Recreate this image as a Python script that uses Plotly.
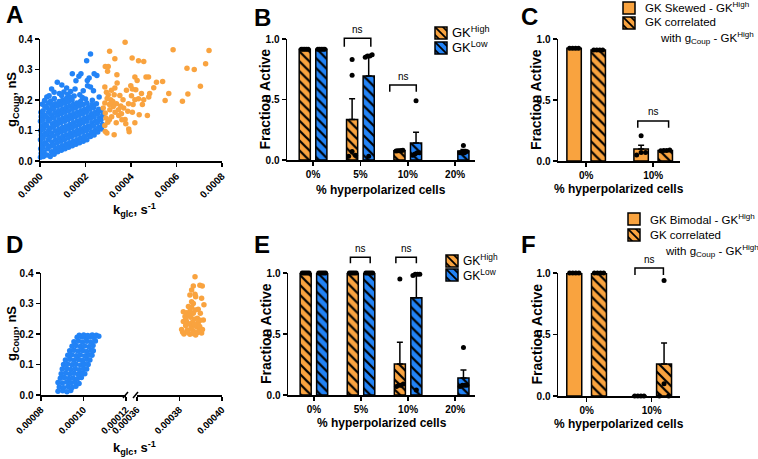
import plotly.graph_objects as go

W, H = 758, 459
ORANGE = "#F9A33F"
BLUE = "#2283F6"
FONT = "Liberation Sans, Arial, sans-serif"

# ---------------- data ----------------
# Panel A: (k_glc in 1e-4 s^-1, g_Coup in nS)
A_BLUE = [
    (2.22, 0.351), (2.05, 0.329), (1.42, 0.286), (1.80, 0.286), (2.38, 0.286), (1.71, 0.278),
    (2.16, 0.272), (0.76, 0.258), (0.96, 0.249), (2.08, 0.264), (1.58, 0.263), (2.50, 0.280),
    (1.17, 0.239), (1.54, 0.236), (2.09, 0.247), (0.51, 0.236), (1.35, 0.228), (1.75, 0.217),
    (2.22, 0.243), (0.62, 0.225), (0.30, 0.210), (1.05, 0.226), (2.35, 0.230), (2.60, 0.210),
    (1.90, 0.230), (0.20, 0.198), (0.40, 0.214), (0.85, 0.221), (1.22, 0.219), (1.50, 0.213),
    (1.86, 0.208), (2.00, 0.203), (2.30, 0.199), (2.48, 0.188), (0.10, 0.186),
    (0.02, 0.012), (0.05, 0.025), (0.03, 0.040), (0.08, 0.055), (0.02, 0.070), (0.06, 0.085),
    (0.03, 0.100), (0.07, 0.115), (0.02, 0.130), (0.05, 0.145), (0.04, 0.160),
    (0.15, 0.015), (0.18, 0.030), (0.12, 0.045), (0.20, 0.060), (0.14, 0.075), (0.22, 0.090),
    (0.15, 0.105), (0.20, 0.120), (0.13, 0.135), (0.18, 0.150), (0.14, 0.165), (0.20, 0.180),
    (0.30, 0.020), (0.34, 0.040), (0.28, 0.055), (0.36, 0.070), (0.30, 0.085), (0.38, 0.100),
    (0.30, 0.115), (0.35, 0.130), (0.28, 0.145), (0.37, 0.160), (0.30, 0.175), (0.36, 0.190),
    (0.45, 0.015), (0.50, 0.030), (0.46, 0.048), (0.52, 0.062), (0.44, 0.078), (0.50, 0.092),
    (0.46, 0.108), (0.54, 0.122), (0.45, 0.138), (0.50, 0.152), (0.46, 0.168), (0.52, 0.182),
    (0.47, 0.197),
    (0.62, 0.022), (0.66, 0.038), (0.60, 0.052), (0.68, 0.068), (0.62, 0.082), (0.67, 0.098),
    (0.60, 0.112), (0.68, 0.128), (0.62, 0.142), (0.66, 0.158), (0.60, 0.172), (0.67, 0.188),
    (0.63, 0.205),
    (0.78, 0.030), (0.82, 0.045), (0.76, 0.060), (0.84, 0.075), (0.78, 0.090), (0.83, 0.105),
    (0.76, 0.120), (0.84, 0.135), (0.78, 0.150), (0.82, 0.165), (0.77, 0.180), (0.84, 0.195),
    (0.94, 0.035), (0.98, 0.050), (0.92, 0.065), (1.00, 0.080), (0.94, 0.095), (0.99, 0.110),
    (0.92, 0.125), (1.00, 0.140), (0.94, 0.155), (0.98, 0.170), (0.93, 0.185), (1.00, 0.200),
    (0.95, 0.215),
    (1.10, 0.040), (1.14, 0.055), (1.08, 0.070), (1.16, 0.085), (1.10, 0.100), (1.15, 0.115),
    (1.08, 0.130), (1.16, 0.145), (1.10, 0.160), (1.14, 0.175), (1.09, 0.190), (1.16, 0.205),
    (1.26, 0.045), (1.30, 0.060), (1.24, 0.075), (1.32, 0.090), (1.26, 0.105), (1.31, 0.120),
    (1.24, 0.135), (1.32, 0.150), (1.26, 0.165), (1.30, 0.180), (1.25, 0.195), (1.32, 0.210),
    (1.42, 0.050), (1.46, 0.065), (1.40, 0.080), (1.48, 0.095), (1.42, 0.110), (1.47, 0.125),
    (1.40, 0.140), (1.48, 0.155), (1.42, 0.170), (1.46, 0.185), (1.41, 0.200),
    (1.58, 0.055), (1.62, 0.070), (1.56, 0.085), (1.64, 0.100), (1.58, 0.115), (1.63, 0.130),
    (1.56, 0.145), (1.64, 0.160), (1.58, 0.175), (1.62, 0.190),
    (1.74, 0.060), (1.78, 0.075), (1.72, 0.090), (1.80, 0.105), (1.74, 0.120), (1.79, 0.135),
    (1.72, 0.150), (1.80, 0.165), (1.74, 0.180), (1.78, 0.195),
    (1.90, 0.065), (1.94, 0.080), (1.88, 0.095), (1.96, 0.110), (1.90, 0.125), (1.95, 0.140),
    (1.88, 0.155), (1.96, 0.170), (1.90, 0.185),
    (2.06, 0.070), (2.10, 0.085), (2.04, 0.100), (2.12, 0.115), (2.06, 0.130), (2.11, 0.145),
    (2.04, 0.160), (2.12, 0.175), (2.06, 0.190),
    (2.22, 0.080), (2.26, 0.095), (2.20, 0.110), (2.28, 0.125), (2.22, 0.140), (2.27, 0.155),
    (2.20, 0.170), (2.28, 0.185),
    (2.38, 0.085), (2.42, 0.100), (2.36, 0.115), (2.44, 0.130), (2.38, 0.145), (2.43, 0.160),
    (2.36, 0.175),
    (2.54, 0.095), (2.58, 0.110), (2.52, 0.125), (2.60, 0.140), (2.54, 0.155), (2.58, 0.170),
    (2.70, 0.105), (2.74, 0.120), (2.68, 0.135), (2.76, 0.150), (2.70, 0.165),
]
A_ORANGE = [
    (3.74, 0.389), (3.06, 0.360), (5.85, 0.365), (7.43, 0.362), (3.29, 0.335), (4.05, 0.338),
    (4.33, 0.329), (4.56, 0.326), (2.87, 0.310), (3.00, 0.310), (2.97, 0.294), (7.28, 0.319),
    (6.46, 0.304), (6.78, 0.300), (3.38, 0.283), (4.17, 0.275), (4.66, 0.275), (4.77, 0.275),
    (4.27, 0.264), (5.12, 0.258), (5.39, 0.261), (2.85, 0.243), (3.99, 0.247), (4.06, 0.236),
    (5.00, 0.240), (7.05, 0.245), (3.39, 0.256), (3.29, 0.239), (3.14, 0.232), (3.80, 0.232),
    (4.21, 0.234), (6.50, 0.220), (5.66, 0.221), (3.26, 0.217), (3.00, 0.217), (3.51, 0.215),
    (4.02, 0.214), (4.46, 0.221), (4.82, 0.221), (4.78, 0.210), (3.11, 0.201), (3.65, 0.201),
    (4.17, 0.201), (4.33, 0.204), (4.56, 0.201), (5.50, 0.198), (6.26, 0.196), (2.85, 0.190),
    (3.36, 0.188), (3.89, 0.188), (4.09, 0.185), (4.50, 0.185), (3.22, 0.179), (3.68, 0.174),
    (2.78, 0.174), (3.07, 0.168), (3.45, 0.168), (3.86, 0.163), (4.06, 0.160), (4.72, 0.149),
    (3.46, 0.149), (2.87, 0.157), (2.90, 0.141), (3.74, 0.136), (3.58, 0.155), (4.36, 0.152),
    (2.98, 0.127), (3.77, 0.122), (2.85, 0.116), (4.17, 0.125), (3.90, 0.105), (2.87, 0.097),
    (3.26, 0.086), (3.92, 0.096), (2.94, 0.092), (3.05, 0.185), (3.20, 0.195), (2.95, 0.205),
    (3.15, 0.145), (3.30, 0.160), (3.05, 0.135), (3.35, 0.125), (3.55, 0.180), (3.60, 0.135),
    (2.92, 0.225),
]
# Panel D: (k_glc in 1e-5 s^-1, g_Coup in nS)
D_BLUE = [
    (8.80, 0.012), (9.02, 0.014), (9.22, 0.011), (9.40, 0.015),
    (8.86, 0.026), (9.06, 0.024), (9.27, 0.028), (9.46, 0.025), (9.64, 0.029),
    (8.80, 0.041), (9.01, 0.039), (9.21, 0.043), (9.41, 0.040), (9.60, 0.042), (9.79, 0.038),
    (8.91, 0.055), (9.10, 0.057), (9.31, 0.054), (9.50, 0.056), (9.71, 0.053), (9.90, 0.057),
    (8.95, 0.070), (9.16, 0.072), (9.35, 0.069), (9.56, 0.071), (9.75, 0.068), (9.94, 0.072), (10.06, 0.070),
    (9.00, 0.085), (9.21, 0.087), (9.40, 0.084), (9.61, 0.086), (9.80, 0.083), (10.01, 0.087), (10.15, 0.085),
    (9.06, 0.100), (9.25, 0.102), (9.46, 0.099), (9.65, 0.101), (9.86, 0.098), (10.05, 0.102), (10.22, 0.100),
    (9.15, 0.115), (9.36, 0.117), (9.55, 0.114), (9.76, 0.116), (9.95, 0.113), (10.16, 0.117), (10.30, 0.115),
    (9.26, 0.130), (9.45, 0.132), (9.66, 0.129), (9.85, 0.131), (10.06, 0.128), (10.25, 0.132), (10.40, 0.130),
    (9.35, 0.145), (9.56, 0.147), (9.75, 0.144), (9.96, 0.146), (10.15, 0.143), (10.36, 0.147), (10.46, 0.145),
    (9.46, 0.160), (9.65, 0.162), (9.86, 0.159), (10.05, 0.161), (10.26, 0.158), (10.45, 0.162),
    (9.55, 0.175), (9.76, 0.177), (9.95, 0.174), (10.16, 0.176), (10.35, 0.173), (10.56, 0.177),
    (9.70, 0.189), (9.91, 0.191), (10.10, 0.188), (10.31, 0.190), (10.50, 0.188), (10.72, 0.193),
    (9.80, 0.196), (10.01, 0.197), (10.20, 0.195), (10.41, 0.197), (10.60, 0.196),
]
D_ORANGE = [
    (38.73, 0.388), (38.65, 0.357), (38.96, 0.360), (39.07, 0.357), (38.57, 0.344), (38.73, 0.330),
    (38.49, 0.328), (38.76, 0.322), (39.04, 0.317), (38.57, 0.306), (38.65, 0.300), (38.42, 0.290),
    (38.57, 0.288), (38.88, 0.281), (39.15, 0.296), (38.18, 0.273), (38.34, 0.270), (38.65, 0.268),
    (38.98, 0.268), (38.26, 0.257), (38.53, 0.255), (38.84, 0.252), (39.12, 0.246), (38.18, 0.241),
    (38.34, 0.239), (38.60, 0.238), (38.88, 0.236), (38.29, 0.228), (38.57, 0.226), (38.80, 0.224),
    (38.10, 0.215), (38.37, 0.213), (38.65, 0.210), (38.92, 0.212), (38.21, 0.200), (38.49, 0.199),
    (38.76, 0.197), (39.04, 0.203), (38.45, 0.262), (38.70, 0.248), (38.95, 0.225), (38.40, 0.205),
    (38.85, 0.205), (38.55, 0.218), (38.30, 0.248), (38.75, 0.279), (38.50, 0.276), (38.98, 0.245),
    (38.62, 0.202), (38.15, 0.206), (39.08, 0.215), (38.70, 0.232), (38.45, 0.233),
]

PCT4 = ["0%", "5%", "10%", "20%"]
PCT2 = ["0%", "10%"]

# Panel B
B_HIGH_MEAN = [0.915, 0.334, 0.077, None]
B_HIGH_SEM = [0.003, 0.173, 0.002, None]
B_HIGH_PTS = [[0.915, 0.915, 0.915, 0.915, 0.915], [0.83, 0.70, 0.07, 0.04, 0.03],
              [0.080, 0.078, 0.077, 0.076, 0.075], []]
B_LOW_MEAN = [0.915, 0.694, 0.140, 0.074]
B_LOW_SEM = [0.003, 0.175, 0.090, 0.012]
B_LOW_PTS = [[0.915, 0.915, 0.915, 0.915, 0.915], [0.87, 0.86, 0.86, 0.85, 0.03],
             [0.49, 0.06, 0.05, 0.04, 0.06], [0.12, 0.07, 0.06, 0.06, 0.06]]
# Panel C
C_SKEW_MEAN = [0.924, 0.099]
C_SKEW_SEM = [0.003, 0.030]
C_SKEW_PTS = [[0.924, 0.924, 0.924, 0.924], [0.207, 0.07, 0.07, 0.05]]
C_CORR_MEAN = [0.910, 0.087]
C_CORR_SEM = [0.003, 0.002]
C_CORR_PTS = [[0.910, 0.910, 0.910, 0.910], [0.090, 0.087, 0.085, 0.086]]
# Panel E
E_HIGH_MEAN = [1.0, 1.0, 0.254, None]
E_HIGH_SEM = [0.0, 0.0, 0.178, None]
E_HIGH_PTS = [[1.0] * 5, [1.0] * 5, [0.95, 0.08, 0.08, 0.07, 0.09], []]
E_LOW_MEAN = [1.0, 1.0, 0.798, 0.140]
E_LOW_SEM = [0.0, 0.0, 0.190, 0.065]
E_LOW_PTS = [[1.0] * 5, [1.0] * 5, [0.99, 0.99, 0.99, 0.98, 0.04], [0.39, 0.08, 0.08, 0.08, 0.07]]
# Panel F
F_BIMODAL_MEAN = [1.0, 0.0]
F_BIMODAL_SEM = [0.0, 0.0]
F_BIMODAL_PTS = [[1.0] * 4, [0.0] * 4]
F_CORR_MEAN = [1.0, 0.26]
F_CORR_SEM = [0.0, 0.170]
F_CORR_PTS = [[1.0] * 4, [0.94, 0.10, 0.0, 0.0]]

# ---------------- helpers ----------------
def dom_x(a, b):
    return [a / W, b / W]


def dom_y(top, bot):
    return [1 - bot / H, 1 - top / H]


def px(x):
    return x / W


def py(y):
    return 1 - y / H


TICKFONT = dict(family=FONT, size=10, color="black", weight="bold")
AX = dict(showline=True, linecolor="black", linewidth=1.5, ticks="outside", ticklen=4,
          tickwidth=1.5, tickcolor="black", showgrid=False, zeroline=False, tickfont=TICKFONT,
          fixedrange=True, automargin=False)
DTICK = dict(TICKFONT, size=9.5)

fig = go.Figure()

# ---------------- scatter panels ----------------
def add_scatter(pts, scale, color, xa, ya):
    fig.add_trace(go.Scatter(
        x=[p[0] * scale for p in pts], y=[p[1] for p in pts], mode="markers",
        marker=dict(color=color, size=5.5, line=dict(width=0)),
        xaxis=xa, yaxis=ya, showlegend=False, cliponaxis=False, hoverinfo="skip"))


add_scatter(A_BLUE, 1e-4, BLUE, "x", "y")
add_scatter(A_ORANGE, 1e-4, ORANGE, "x", "y")
add_scatter(D_BLUE, 1e-5, BLUE, "x4", "y4")
add_scatter(D_ORANGE, 1e-5, ORANGE, "x5", "y4")

# ---------------- bar panels ----------------
def spread(vals, bw):
    offs = [0.0] * len(vals)
    order = sorted(range(len(vals)), key=lambda i: vals[i])
    clusters, cur = [], []
    for i in order:
        if cur and abs(vals[i] - vals[cur[-1]]) > 0.03:
            clusters.append(cur)
            cur = []
        cur.append(i)
    if cur:
        clusters.append(cur)
    for cl in clusters:
        m = len(cl)
        for j, i in enumerate(cl):
            offs[i] = 0.0 if m == 1 else (j / (m - 1) - 0.5) * bw * 0.62
    return offs


def add_bars(cats, mean, sem, pts, color, striped, side, half, bw, xa, ya, legend):
    xs = [i + side * half for i in range(len(cats))]
    pattern = dict(shape="\\", fgcolor="black", bgcolor=color, size=7, solidity=0.32,
                   fillmode="replace") if striped else dict(shape="")
    fig.add_trace(go.Bar(
        x=xs, y=mean, width=bw, xaxis=xa, yaxis=ya, name="", legend=legend,
        marker=dict(color=color, line=dict(color="black", width=1.5), pattern=pattern),
        error_y=dict(type="data", symmetric=False, array=sem, arrayminus=[0] * len(sem),
                     color="black", thickness=1.5, width=3),
        showlegend=True, hoverinfo="skip"))
    dx, dy = [], []
    for i, vals in enumerate(pts):
        offs = spread(vals, bw)
        for v, o in zip(vals, offs):
            dx.append(xs[i] + o)
            dy.append(v)
    fig.add_trace(go.Scatter(x=dx, y=dy, mode="markers", xaxis=xa, yaxis=ya,
                             marker=dict(color="black", size=5), showlegend=False,
                             cliponaxis=False, hoverinfo="skip"))


HALF4, BW4 = 0.175, 0.235
add_bars(PCT4, B_HIGH_MEAN, B_HIGH_SEM, B_HIGH_PTS, ORANGE, True, -1, HALF4, BW4, "x2", "y2", "legend")
add_bars(PCT4, B_LOW_MEAN, B_LOW_SEM, B_LOW_PTS, BLUE, True, 1, HALF4, BW4, "x2", "y2", "legend2")
add_bars(PCT4, E_HIGH_MEAN, E_HIGH_SEM, E_HIGH_PTS, ORANGE, True, -1, HALF4, BW4, "x6", "y6", "legend3")
add_bars(PCT4, E_LOW_MEAN, E_LOW_SEM, E_LOW_PTS, BLUE, True, 1, HALF4, BW4, "x6", "y6", "legend4")
add_bars(PCT2, C_SKEW_MEAN, C_SKEW_SEM, C_SKEW_PTS, ORANGE, False, -1, 0.18, 0.215, "x3", "y3", "legend5")
add_bars(PCT2, C_CORR_MEAN, C_CORR_SEM, C_CORR_PTS, ORANGE, True, 1, 0.18, 0.215, "x3", "y3", "legend6")
add_bars(PCT2, F_BIMODAL_MEAN, F_BIMODAL_SEM, F_BIMODAL_PTS, ORANGE, False, -1, 0.19, 0.23, "x7", "y7", "legend7")
add_bars(PCT2, F_CORR_MEAN, F_CORR_SEM, F_CORR_PTS, ORANGE, True, 1, 0.19, 0.23, "x7", "y7", "legend8")

# ---------------- axes ----------------
PANELS = {
    # name: (x px left, x px right, y px top, y px bottom, x range)
    "B": (287, 475, 39, 160, (-0.55, 3.42)),
    "C": (558, 680, 39, 161, (-0.42, 1.40)),
    "E": (288, 475, 273, 395, (-0.55, 3.42)),
    "F": (558, 680, 273, 396, (-0.44, 1.435)),
}
layout = dict(
    width=W, height=H, margin=dict(l=0, r=0, t=0, b=0, autoexpand=False),
    paper_bgcolor="white", plot_bgcolor="white", bargap=0, barmode="overlay",
    font=dict(family=FONT, color="black"),
    xaxis=dict(AX, domain=dom_x(40, 222), range=[0, 0.0008], anchor="y",
               tickvals=[0, 0.0002, 0.0004, 0.0006, 0.0008], tickformat=".4f", tickangle=-45),
    yaxis=dict(AX, domain=dom_y(39, 161), range=[0, 0.4], anchor="x",
               tickvals=[0, 0.1, 0.2, 0.3, 0.4], tickformat=".1f"),
    xaxis4=dict(AX, domain=dom_x(41, 126), range=[0.00008, 0.00012], anchor="y4",
                tickvals=[0.00008, 0.00010, 0.00012], tickformat=".5f", tickangle=-45,
                tickfont=DTICK),
    xaxis5=dict(AX, domain=dom_x(137, 222), range=[0.00036, 0.00040], anchor="y4",
                tickvals=[0.00036, 0.00038, 0.00040], tickformat=".5f", tickangle=-45,
                tickfont=DTICK),
    yaxis4=dict(AX, domain=dom_y(273, 395), range=[0, 0.4], anchor="x4",
                tickvals=[0, 0.1, 0.2, 0.3, 0.4], tickformat=".1f"),
)
for key, xa, ya, cats in [("B", "xaxis2", "yaxis2", PCT4), ("C", "xaxis3", "yaxis3", PCT2),
                          ("E", "xaxis6", "yaxis6", PCT4), ("F", "xaxis7", "yaxis7", PCT2)]:
    x0, x1, y0, y1, rng = PANELS[key]
    layout[xa] = dict(AX, domain=dom_x(x0, x1), range=list(rng), anchor=ya.replace("axis", ""),
                      tickvals=list(range(len(cats))), ticktext=cats)
    layout[ya] = dict(AX, domain=dom_y(y0, y1), range=[0, 1.0], anchor=xa.replace("axis", ""),
                      tickvals=[0, 0.5, 1.0], tickformat=".1f")

# ---------------- legends (icons) + legend texts ----------------
LEG = [("legend", 435, 33), ("legend2", 435, 48), ("legend3", 446, 261), ("legend4", 446, 275),
       ("legend5", 623, 8), ("legend6", 623, 23), ("legend7", 628, 219), ("legend8", 628, 235)]
for name, ix, iy in LEG:
    layout[name] = dict(x=px(ix - 14), y=py(iy), xanchor="left", yanchor="middle",
                        bgcolor="rgba(0,0,0,0)", borderwidth=0, font=dict(size=9),
                        itemclick=False, itemdoubleclick=False)

annotations = []


def text(x, y, s, size=12, bold=False, angle=0, xanchor="left", yanchor="middle"):
    annotations.append(dict(
        x=px(x), y=py(y), xref="paper", yref="paper", text=s, showarrow=False,
        xanchor=xanchor, yanchor=yanchor, textangle=angle,
        font=dict(family=FONT, size=size, color="black", weight="bold" if bold else "normal")))


LEG_TXT = [(450, 32, "GK<sup>High</sup>", 13), (450, 47, "GK<sup>Low</sup>", 13),
           (461, 260, "GK<sup>High</sup>", 12), (461, 275, "GK<sup>Low</sup>", 12),
           (643, 7, "GK Skewed - GK<sup>High</sup>", 11.5), (643, 22, "GK correlated", 11.5),
           (658, 38, "with g<sub>Coup</sub> - GK<sup>High</sup>", 11.5),
           (648, 219, "GK Bimodal - GK<sup>High</sup>", 11.5), (648, 235, "GK correlated", 11.5),
           (663, 251, "with g<sub>Coup</sub> - GK<sup>High</sup>", 11.5)]
for x, y, s, fs in LEG_TXT:
    text(x, y, s, size=fs)

# panel letters
for x, y, s in [(4, 15, "A"), (252, 18, "B"), (519, 17, "C"), (4, 244, "D"), (252, 244, "E"), (519, 244, "F")]:
    text(x, y, s, size=24, bold=True)

# axis titles
text(134, 210, "k<sub>glc</sub>, s<sup>-1</sup>", size=13, bold=True, xanchor="center")
text(134, 448, "k<sub>glc</sub>, s<sup>-1</sup>", size=13, bold=True, xanchor="center")
text(12, 100, "g<sub>Coup</sub>, nS", size=13, bold=True, angle=-90, xanchor="center")
text(12, 334, "g<sub>Coup</sub>, nS", size=13, bold=True, angle=-90, xanchor="center")
for key, ty in [("B", 190), ("C", 189), ("E", 423), ("F", 424)]:
    x0, x1, y0, y1, rng = PANELS[key]
    text((x0 + x1) / 2, ty, "% hyperpolarized cells", size=12, bold=True, xanchor="center")
    text(x0 - 22, (y0 + y1) / 2, "Fraction Active", size=14, bold=True, angle=-90, xanchor="center")

# significance brackets
shapes = []


def to_px(key, xv, yv):
    x0, x1, y0, y1, rng = PANELS[key]
    X = x0 + (xv - rng[0]) / (rng[1] - rng[0]) * (x1 - x0)
    Y = y1 - yv * (y1 - y0)
    return X, Y


BRACKETS = [("B", 1, -0.34, 0.22, 1.006, 0.936, 1.08), ("B", 2, -0.38, 0.18, 0.62, 0.565, 0.69),
            ("E", 1, -0.225, 0.195, 1.13, 1.08, 1.20), ("E", 2, -0.26, 0.175, 1.13, 1.08, 1.20),
            ("C", 1, -0.23, 0.23, 0.328, 0.273, 0.404), ("F", 1, -0.257, 0.18, 1.04, 0.984, 1.11)]
for key, idx, a, b, top, leg, ns in BRACKETS:
    xa_, ytop = to_px(key, idx + a, top)
    xb_, yleg = to_px(key, idx + b, leg)
    path = "M {} {} L {} {} L {} {} L {} {}".format(
        px(xa_), py(yleg), px(xa_), py(ytop), px(xb_), py(ytop), px(xb_), py(yleg))
    shapes.append(dict(type="path", path=path, xref="paper", yref="paper",
                       line=dict(color="black", width=1.5)))
    xn, yn = to_px(key, idx + (a + b) / 2, ns)
    text(xn, yn, "ns", size=10, xanchor="center")

# axis break marks in D
for bx in (125.5, 135.5):
    shapes.append(dict(type="line", xref="paper", yref="paper", x0=px(bx - 2.5), y0=py(398),
                       x1=px(bx + 2.5), y1=py(392), line=dict(color="black", width=1.5)))

layout["annotations"] = annotations
layout["shapes"] = shapes
fig.update_layout(**layout)
fig.write_html("out.html", config={"displayModeBar": False, "staticPlot": True},
               post_script="document.body.style.margin='0px';document.body.style.overflow='hidden';")
